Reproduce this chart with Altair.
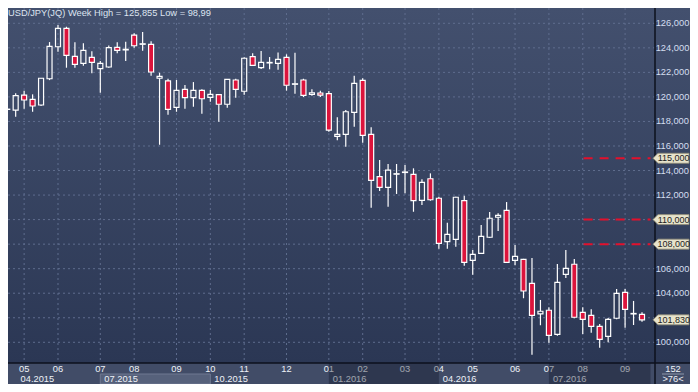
import altair as alt
import pandas as pd

# ---------------- data (weekly USD/JPY candles) ----------------
candle_no = list(range(1, 77))
opens = [118.98, 118.93, 120.15, 119.80, 119.34, 121.48, 124.09, 125.59, 123.31, 122.74,
         123.23, 122.30, 122.44, 124.04, 123.83, 125.04, 124.29, 124.29, 121.52, 121.30,
         119.15, 120.62, 119.94, 120.54, 119.97, 120.18, 119.40, 121.38, 120.46, 123.28,
         122.38, 122.77, 122.74, 123.23, 121.03, 121.38, 120.21, 120.32, 120.26, 116.79,
         116.95, 118.74, 121.35, 116.95, 113.50, 112.63, 113.70, 113.84, 113.69, 111.57,
         113.33, 111.74, 108.20, 108.39, 111.54, 106.68, 107.25, 108.56, 110.19, 110.76,
         106.68, 106.76, 104.81, 102.31, 102.61, 100.65, 105.54, 106.36, 102.44, 102.20,
         101.30, 100.49, 101.96, 104.07, 102.31, 102.28]
highs = [119.10, 120.29, 120.50, 120.21, 121.55, 124.47, 125.86, 125.72, 124.45, 124.37,
         123.72, 122.93, 124.20, 124.45, 124.50, 125.18, 125.29, 124.53, 121.97, 121.48,
         121.38, 120.97, 121.21, 120.62, 120.56, 120.24, 121.45, 121.48, 123.23, 123.55,
         123.74, 123.25, 123.63, 123.47, 123.60, 121.48, 120.62, 120.51, 120.48, 118.34,
         118.93, 121.73, 121.52, 117.52, 114.86, 114.53, 114.53, 114.45, 114.18, 113.28,
         113.77, 111.87, 109.75, 111.87, 111.95, 107.52, 109.56, 110.62, 110.51, 111.43,
         107.93, 106.80, 106.87, 103.45, 102.85, 106.38, 107.52, 106.79, 102.85, 102.69,
         101.49, 101.98, 104.34, 104.34, 103.37, 102.44]
lows = [118.90, 118.39, 119.04, 118.79, 119.25, 121.37, 123.68, 122.38, 122.38, 122.54,
        121.92, 120.34, 122.38, 123.55, 122.93, 124.01, 123.77, 121.73, 116.10, 118.55,
        118.79, 119.04, 119.20, 118.63, 119.61, 117.98, 119.12, 119.94, 120.18, 122.52,
        122.27, 122.25, 122.22, 120.51, 120.26, 119.99, 120.10, 119.99, 117.16, 116.46,
        115.94, 117.57, 116.27, 110.97, 112.33, 111.05, 112.09, 112.14, 110.64, 111.19,
        111.54, 107.63, 107.63, 107.79, 106.24, 105.51, 107.25, 108.50, 109.07, 106.50,
        106.28, 103.59, 98.99, 101.39, 99.97, 100.54, 105.24, 101.96, 100.68, 100.78,
        99.56, 100.00, 101.87, 101.19, 101.41, 101.68]
closes = [119.00, 120.10, 119.75, 119.26, 121.52, 124.12, 125.59, 123.39, 122.66, 123.80,
          122.82, 122.74, 124.01, 123.80, 123.88, 124.17, 124.33, 122.03, 121.68, 118.99,
          120.54, 119.94, 120.54, 119.85, 120.21, 119.40, 121.43, 120.62, 123.15, 122.57,
          122.82, 122.81, 123.06, 120.95, 121.07, 120.13, 120.34, 120.15, 117.30, 116.95,
          118.79, 121.11, 116.87, 113.20, 112.63, 114.04, 113.74, 113.88, 111.54, 113.04,
          111.62, 108.07, 108.80, 111.82, 106.52, 107.17, 108.64, 110.11, 110.35, 106.52,
          107.01, 104.18, 102.20, 102.53, 100.57, 104.89, 106.03, 102.04, 101.87, 101.30,
          100.24, 101.87, 103.99, 102.69, 102.35, 101.83]

month_labels = ["05", "06", "07", "08", "09", "10", "11", "12", "01",
                "02", "03", "04", "05", "06", "07", "08", "09"]
month_at = [3, 7, 12, 16, 21, 25, 29, 34, 39, 43, 48, 52, 56, 61, 65, 69, 74]
quarter_labels = ["04.2015", "07.2015", "10.2015", "01.2016", "04.2016", "07.2016"]
quarter_start = [-1, 12, 25, 39, 52, 65]
quarter_shade = ["none", "light", "none", "dark", "none", "dark"]
grid_prices = [100, 102, 104, 106, 108, 110, 112, 114, 116, 118, 120, 122, 124, 126]
axis_prices = [126, 124, 122, 120, 118, 116, 114, 112, 106, 104, 100]
level_prices = [115, 110, 108]
last_price = 101.83
title_text = "USD/JPY(JQ) Week High = 125,855 Low = 98,99"
bar_count = "152"
visible_count = ">76<"

# ---------------- layout (chart fits inside the page margins) ----------------
W, H = 682, 376
PX_PER_BAR = 8.59
PX_PER_YEN = 12.269
X0 = 1.6845
X1 = X0 + W / PX_PER_BAR
Y1 = 127.247
Y0 = Y1 - H / PX_PER_YEN
PLOT_R_IDX = 77.0
LEVEL_START = 69.1
PLOT_RIGHT_PX = 647
PLOT_BOTTOM_PX = 355
FONT = "Liberation Sans"
FS = 9.3

xs = alt.Scale(domain=[X0, X1], nice=False, zero=False)
ys = alt.Scale(domain=[Y0, Y1], nice=False, zero=False)


def X(f):
    return alt.X(f, type="quantitative", scale=xs, axis=None)


def Y(f):
    return alt.Y(f, type="quantitative", scale=ys, axis=None)


def fmt(v):
    return f"{v:.3f}".replace(".", ",")


df = pd.DataFrame({"n": candle_no, "o": opens, "h": highs, "l": lows, "c": closes})
df["top"] = df[["o", "c"]].max(axis=1)
df["bot"] = df[["o", "c"]].min(axis=1)
df["dir"] = ["up" if c >= o else "down" for o, c in zip(df["o"], df["c"])]

one = pd.DataFrame({"a": [0]})

bg = alt.Chart(one).mark_rect(
    fill=alt.LinearGradient(
        gradient="linear",
        stops=[alt.GradientStop(color="#43506e", offset=0),
               alt.GradientStop(color="#2b3754", offset=1)],
        x1=0, x2=0, y1=0, y2=1)
).encode(x=alt.value(0), x2=alt.value(W), y=alt.value(0), y2=alt.value(PLOT_BOTTOM_PX))

bottom_panel = alt.Chart(one).mark_rect(fill="#414c67").encode(
    x=alt.value(0), x2=alt.value(W), y=alt.value(PLOT_BOTTOM_PX), y2=alt.value(H))

hgrid = alt.Chart(pd.DataFrame({"g": grid_prices})).mark_rule(
    color="#5f6d8e", strokeWidth=1, strokeDash=[2, 3]
).encode(x=alt.value(0), x2=alt.value(PLOT_RIGHT_PX), y=Y("g"))

vgrid = alt.Chart(pd.DataFrame({"m": month_at})).mark_rule(
    color="#5f6d8e", strokeWidth=1, strokeDash=[2, 3]
).encode(x=X("m"), y=alt.value(0), y2=alt.value(PLOT_BOTTOM_PX))

levels = alt.Chart(pd.DataFrame({"p": level_prices, "s": [LEVEL_START] * 3,
                                 "e": [PLOT_R_IDX] * 3})).mark_rule(
    color="#e3102c", strokeWidth=2, strokeDash=[9, 7]
).encode(x=X("s"), x2="e:Q", y=Y("p"))

base = alt.Chart(df)
wick_hi = base.mark_rule(color="white", strokeWidth=1.2).encode(x=X("n"), y=Y("h"), y2="top:Q")
wick_lo = base.mark_rule(color="white", strokeWidth=1.2).encode(x=X("n"), y=Y("bot"), y2="l:Q")
body = base.mark_bar(width=5, stroke="white", strokeWidth=1.2).encode(
    x=X("n"), y=Y("top"), y2="bot:Q",
    fill=alt.Fill("dir:N", scale=alt.Scale(domain=["up", "down"],
                                           range=["transparent", "#dc143c"]), legend=None))

# quarter boxes
qdf = pd.DataFrame({"q": quarter_labels, "s": quarter_start,
                    "e": quarter_start[1:] + [PLOT_R_IDX], "shade": quarter_shade})
qdf["anchor"] = qdf["s"].clip(lower=2.11)
light_box = alt.Chart(qdf[qdf.shade == "light"]).mark_rect(
    fill="#56617b", stroke="#6e7992", strokeWidth=1
).encode(x=X("s"), x2="e:Q", y=alt.value(366), y2=alt.value(376))

month_text = alt.Chart(pd.DataFrame({"m": month_at, "t": month_labels})).mark_text(
    font=FONT, fontSize=FS, color="#eef2f8", baseline="middle", align="center"
).encode(x=X("m"), y=alt.value(361), text="t:N")

year_text = alt.Chart(qdf).mark_text(
    font=FONT, fontSize=FS, color="#eef2f8", baseline="middle", align="left", dx=4
).encode(x=X("anchor"), y=alt.value(371), text="q:N")

dark_box = alt.Chart(qdf[qdf.shade == "dark"]).mark_rect(
    fill="#0b1122", opacity=0.35
).encode(x=X("s"), x2="e:Q", y=alt.value(PLOT_BOTTOM_PX), y2=alt.value(H))

# separators
hsep = alt.Chart(one).mark_rule(color="#0c111c", strokeWidth=1.5).encode(
    x=alt.value(0), x2=alt.value(W), y=alt.value(PLOT_BOTTOM_PX))
vsep = alt.Chart(one).mark_rule(color="#0c111c", strokeWidth=1.5).encode(
    x=alt.value(PLOT_RIGHT_PX), y=alt.value(0), y2=alt.value(H))

# right price labels
adf = pd.DataFrame({"p": axis_prices, "t": [fmt(v) for v in axis_prices]})
axis_text = alt.Chart(adf).mark_text(
    font=FONT, fontSize=FS, color="#d4def0", baseline="middle", align="center"
).encode(x=alt.value(664.5), y=Y("p"), text="t:N")

bdf = pd.DataFrame({"p": level_prices + [last_price]})
bdf["t"] = [fmt(v) for v in bdf["p"]]
box_path = "M-1,0L-0.722,-0.278L1,-0.278L1,0.278L-0.722,0.278Z"
boxes = alt.Chart(bdf).mark_point(
    shape=box_path, size=1296, filled=True, fill="#e7e3cb", stroke="#8f8b76",
    strokeWidth=0.8, opacity=1
).encode(x=alt.value(663), y=Y("p"))
box_text = alt.Chart(bdf).mark_text(
    font=FONT, fontSize=9, color="#1e1e1e", baseline="middle", align="center"
).encode(x=alt.value(665.7), y=Y("p"), text="t:N")

title = alt.Chart(pd.DataFrame({"t": [title_text]})).mark_text(
    font=FONT, fontSize=FS, color="#dde4f0", baseline="top", align="left"
).encode(x=alt.value(0), y=alt.value(0.5), text="t:N")

count_top = alt.Chart(pd.DataFrame({"t": [bar_count]})).mark_text(
    font=FONT, fontSize=FS, color="#eef2f8", baseline="middle", align="center"
).encode(x=alt.value(665), y=alt.value(360.8), text="t:N")
count_bottom = alt.Chart(pd.DataFrame({"t": [visible_count]})).mark_text(
    font=FONT, fontSize=FS, color="#eef2f8", baseline="middle", align="center"
).encode(x=alt.value(665), y=alt.value(371), text="t:N")
count_sep = alt.Chart(one).mark_rule(color="#8d97ab", strokeWidth=1).encode(
    x=alt.value(654), x2=alt.value(676), y=alt.value(366))

chart = alt.layer(
    bg, bottom_panel, hgrid, vgrid, levels, wick_hi, wick_lo, body,
    light_box, month_text, year_text, dark_box, hsep, vsep,
    axis_text, boxes, box_text, title, count_top, count_bottom, count_sep
).properties(
    width=W, height=H, padding=0,
    autosize=alt.AutoSizeParams(type="none"),
    background="#ffffff"
).configure_view(strokeWidth=0)

chart.save("out.html", embed_options={"renderer": "svg", "actions": False})
